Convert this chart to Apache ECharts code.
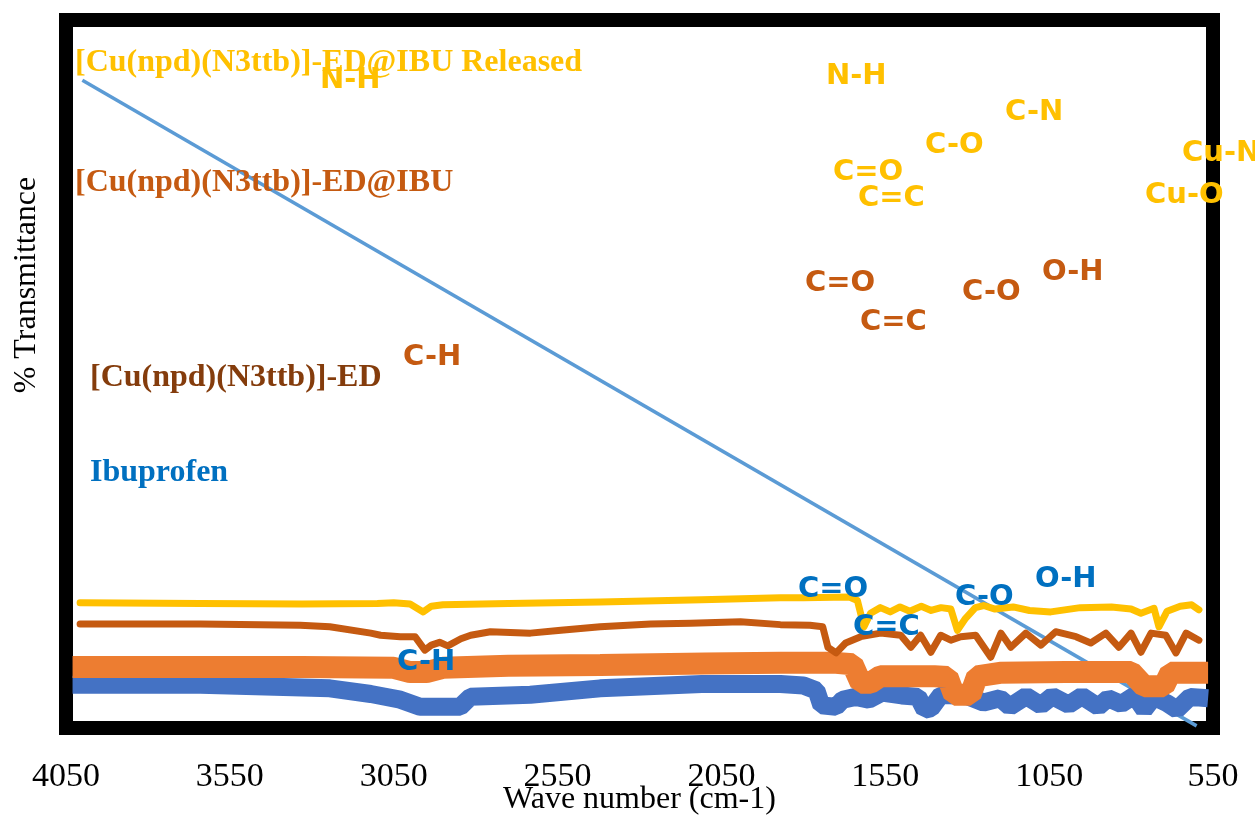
<!DOCTYPE html>
<html><head><meta charset="utf-8">
<script src="https://cdn.jsdelivr.net/npm/echarts@6/dist/echarts.min.js"></script>
<style>html,body{margin:0;padding:0;background:#fff}#c{width:1255px;height:818px}</style>
</head><body><div id="c"></div>
<script>
// ---- data (wavenumber cm-1, relative % transmittance) ----
const xTicks = [4050, 3550, 3050, 2550, 2050, 1550, 1050, 550];

const releasedData = [[4007,17.7],[3640,17.6],[3330,17.5],[3100,17.6],[3050,17.7],[3000,17.5],[2960,16.4],[2935,17.2],[2900,17.4],[2700,17.6],[2420,17.8],[2110,18.1],[1870,18.4],[1800,18.4],[1660,18.5],[1635,18.0],[1615,14.3],[1595,16.2],[1565,17.0],[1535,16.4],[1505,17.1],[1475,16.5],[1440,17.2],[1410,16.6],[1380,17.0],[1350,16.8],[1330,13.8],[1305,15.5],[1275,17.0],[1250,17.3],[1215,16.8],[1160,17.1],[1110,16.6],[1045,16.4],[955,17.0],[860,17.1],[800,16.8],[770,16.2],[730,16.9],[715,14.3],[690,16.5],[650,17.2],[615,17.4],[593,16.7]];

const edIbuData = [[4007,14.7],[3640,14.7],[3335,14.5],[3245,14.3],[3120,13.4],[3090,13.1],[3030,12.9],[2985,12.9],[2955,11.0],[2935,11.7],[2910,12.1],[2885,11.6],[2845,12.6],[2815,13.1],[2755,13.6],[2633,13.4],[2540,13.8],[2420,14.3],[2266,14.7],[2144,14.8],[1992,15.0],[1870,14.6],[1780,14.5],[1741,14.3],[1725,11.4],[1700,10.6],[1671,12.0],[1625,12.9],[1564,13.4],[1503,13.1],[1472,11.4],[1442,13.1],[1411,10.7],[1381,13.1],[1350,12.4],[1320,12.9],[1274,13.1],[1228,10.0],[1197,13.4],[1167,11.4],[1121,13.4],[1075,11.7],[1030,13.6],[968,12.9],[923,12.0],[877,13.4],[837,11.4],[800,13.4],[770,10.7],[739,13.4],[694,13.1],[663,10.6],[632,13.4],[593,12.4]];

const edData = [[4030,8.6],[3640,8.6],[3330,8.6],[3050,8.5],[3000,7.9],[2950,7.9],[2900,8.5],[2700,8.8],[2420,8.9],[2100,9.1],[1870,9.2],[1700,9.2],[1650,9.0],[1625,6.4],[1595,6.4],[1565,7.3],[1500,7.3],[1400,7.3],[1360,7.2],[1340,4.7],[1290,4.7],[1270,7.3],[1200,7.8],[1000,7.9],[800,7.9],[760,5.9],[700,5.9],[680,7.8],[565,7.8]];

const ibuprofenData = [[4030,6.1],[3640,6.1],[3245,5.6],[3120,4.8],[3030,4.0],[2970,3.0],[2880,3.0],[2847,3.0],[2816,4.4],[2633,4.7],[2420,5.6],[2110,6.2],[1870,6.2],[1800,6.0],[1760,5.3],[1745,3.2],[1700,3.0],[1680,4.0],[1640,4.4],[1600,4.0],[1560,5.0],[1500,4.6],[1450,4.4],[1430,2.6],[1410,2.8],[1380,4.7],[1300,4.5],[1250,3.6],[1200,4.2],[1170,3.0],[1120,4.5],[1075,3.2],[1040,4.5],[990,3.3],[950,4.5],[900,3.0],[870,4.2],[830,3.4],[790,4.6],[760,2.6],[730,4.4],[690,3.5],[660,2.6],[620,4.4],[565,4.2]];

const trendData = [[4000,91.5],[600,0.3]];

// ---- annotation texts ----
const titleLabels = [
  {text:'[Cu(npd)(N3ttb)]-ED@IBU Released', x:75, y:63, color:'#FFC000'},
  {text:'[Cu(npd)(N3ttb)]-ED@IBU', x:75, y:183, color:'#C55A11'},
  {text:'[Cu(npd)(N3ttb)]-ED', x:90, y:378, color:'#843C0C'},
  {text:'Ibuprofen', x:90, y:473, color:'#0070C0'}
];
const groupLabels = [
  {text:'N-H', x:320, y:80, color:'#FFC000'},
  {text:'N-H', x:826, y:76, color:'#FFC000'},
  {text:'C-N', x:1005, y:112, color:'#FFC000'},
  {text:'C-O', x:925, y:145, color:'#FFC000'},
  {text:'C=O', x:833, y:172, color:'#FFC000'},
  {text:'C=C', x:858, y:198, color:'#FFC000'},
  {text:'Cu-N', x:1182, y:153, color:'#FFC000'},
  {text:'Cu-O', x:1145, y:195, color:'#FFC000'},
  {text:'C=O', x:805, y:283, color:'#C55A11'},
  {text:'C=C', x:860, y:322, color:'#C55A11'},
  {text:'C-O', x:962, y:292, color:'#C55A11'},
  {text:'O-H', x:1042, y:272, color:'#C55A11'},
  {text:'C-H', x:403, y:357, color:'#C55A11'},
  {text:'C=O', x:798, y:589, color:'#0070C0'},
  {text:'C=C', x:853, y:627, color:'#0070C0'},
  {text:'C-O', x:955, y:597, color:'#0070C0'},
  {text:'O-H', x:1035, y:579, color:'#0070C0'},
  {text:'C-H', x:397, y:662, color:'#0070C0'}
];

const graphics = [];
titleLabels.forEach(l => graphics.push({type:'text', z:100, style:{text:l.text, x:l.x, y:l.y, fill:l.color, font:'bold 32px "Liberation Serif", "Times New Roman", serif', verticalAlign:'middle', align:'left'}}));
groupLabels.forEach(l => graphics.push({type:'text', z:100, style:{text:l.text, x:l.x, y:l.y, fill:l.color, font:'bold 29px "DejaVu Sans", Verdana, sans-serif', verticalAlign:'middle', align:'left'}}));
graphics.push({type:'text', z:100, x:27, y:285, rotation:Math.PI/2, style:{text:'% Transmittance', x:0, y:0, fill:'#000', font:'32px "Liberation Serif", "Times New Roman", serif', align:'center', verticalAlign:'middle'}});

const chart = echarts.init(document.getElementById('c'), null, {renderer:'canvas'});
chart.setOption({
  animation:false,
  backgroundColor:'#fff',
  grid:{left:66, right:42, top:20, bottom:90, containLabel:false, outerBoundsMode:'none', show:true, borderColor:'#000', borderWidth:14, backgroundColor:'transparent'},
  xAxis:{
    type:'value', inverse:true, min:550, max:4050,
    axisLine:{show:false},
    splitLine:{show:false},
    axisTick:{show:true, customValues:xTicks, length:4, lineStyle:{color:'#000', width:4}},
    axisLabel:{customValues:xTicks, margin:32, color:'#000', fontFamily:'"Liberation Serif", "Times New Roman", serif', fontSize:34, formatter: v => String(v)},
    name:'Wave number (cm-1)', nameLocation:'middle', nameGap:56, nameMoveOverlap:false,
    nameTextStyle:{color:'#000', fontFamily:'"Liberation Serif", "Times New Roman", serif', fontSize:32}
  },
  yAxis:{type:'value', min:0, max:100, show:false, splitLine:{show:false}},
  graphic: graphics,
  series:[
    {name:'trend', type:'line', data:trendData, symbol:'none', lineStyle:{color:'#5B9BD5', width:3.5}},
    {name:'Ibuprofen', type:'line', data:ibuprofenData, symbol:'none', lineStyle:{color:'#4472C4', width:18, join:'bevel'}},
    {name:'[Cu(npd)(N3ttb)]-ED', type:'line', data:edData, symbol:'none', lineStyle:{color:'#ED7D31', width:22, join:'bevel'}},
    {name:'[Cu(npd)(N3ttb)]-ED@IBU', type:'line', data:edIbuData, symbol:'none', lineStyle:{color:'#C55A11', width:7, cap:'round', join:'round'}},
    {name:'[Cu(npd)(N3ttb)]-ED@IBU Released', type:'line', data:releasedData, symbol:'none', lineStyle:{color:'#FFC000', width:7, cap:'round', join:'round'}}
  ]
});
</script>
</body></html>
